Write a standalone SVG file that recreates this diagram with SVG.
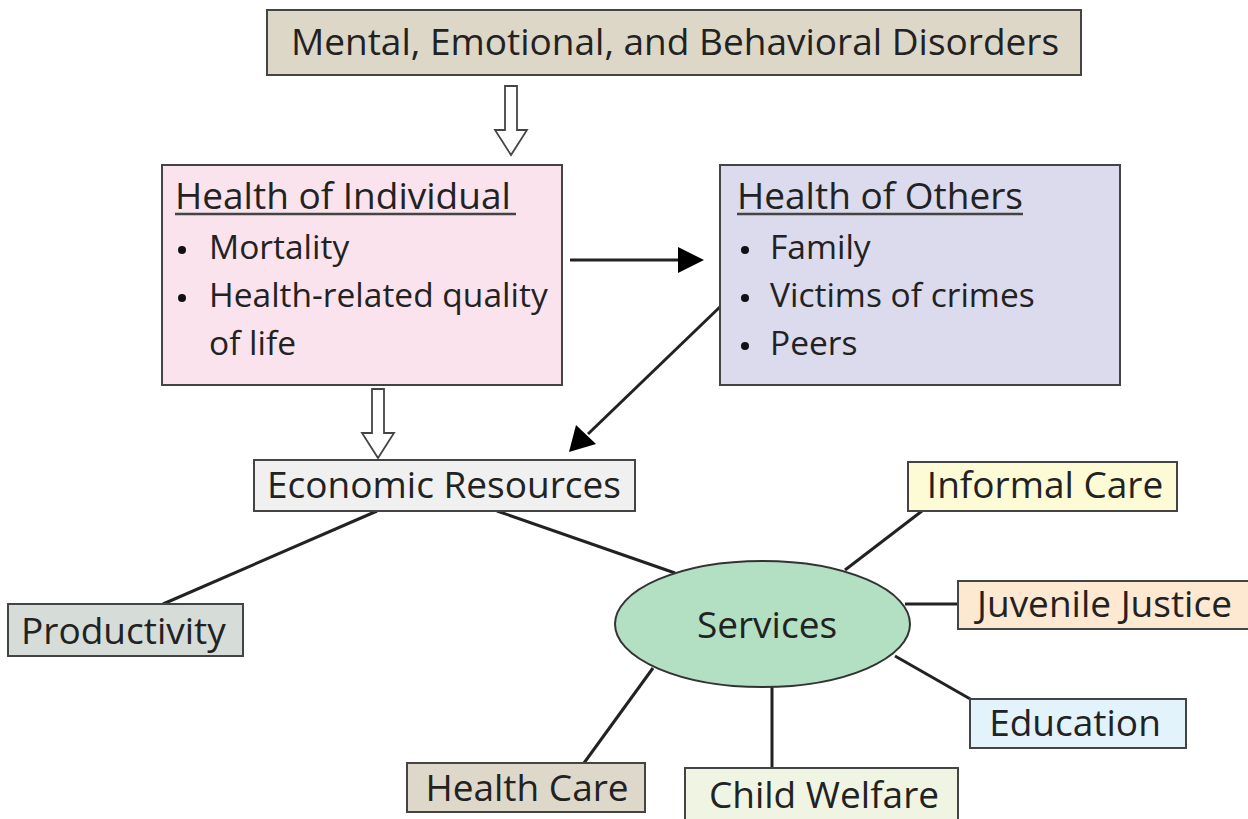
<svg xmlns="http://www.w3.org/2000/svg" width="1248" height="819" viewBox="0 0 1248 819">
<defs>
<style>
.box{stroke:#444;stroke-width:2}
.t{font-family:"Open Sans","Liberation Sans",sans-serif;fill:#222;font-size:37px}
.b{font-size:33.5px}
.c{text-anchor:middle}
.ln{stroke:#222;stroke-width:3;fill:none}
.hollow{fill:#fff;stroke:#444;stroke-width:1.8}
.dot{fill:#111}
</style>
</defs>
<rect width="1248" height="819" fill="#fff"/>

<g id="connectors">
<path class="hollow" d="M505,86 H517 V130 H527 L511,155 L495,130 H505 Z"/>
<path class="hollow" d="M372,389 H384 V433 H394 L378,458 L362,433 H372 Z"/>
<line class="ln" x1="570" y1="260" x2="682" y2="260"/>
<path d="M678,247 L704,260 L678,273 Z" fill="#000"/>
<line class="ln" x1="723" y1="304" x2="588" y2="434"/>
<path d="M569,452 L576,425 L596,444 Z" fill="#000"/>
<line class="ln" x1="377" y1="511" x2="163" y2="604"/>
<line class="ln" x1="497" y1="511" x2="675" y2="573"/>
<line class="ln" x1="845" y1="570" x2="922" y2="511"/>
<line class="ln" x1="905" y1="604" x2="958" y2="604"/>
<line class="ln" x1="895" y1="656" x2="972" y2="700"/>
<line class="ln" x1="772" y1="687" x2="772" y2="768"/>
<line class="ln" x1="653" y1="668" x2="584" y2="763"/>
</g>

<g id="n-disorders">
<rect class="box" x="267" y="10" width="814" height="65" fill="#ddd7c8"/>
<text class="t c" x="675" y="55">Mental, Emotional, and Behavioral Disorders</text>
</g>

<g id="n-individual">
<rect class="box" x="162" y="165" width="400" height="220" fill="#fbe3ee"/>
<text class="t" x="175" y="209">Health of Individual</text>
<line x1="175" y1="214" x2="516" y2="214" stroke="#444" stroke-width="2.5"/>
<circle class="dot" cx="182" cy="250" r="4"/>
<text class="t b" x="209" y="259">Mortality</text>
<circle class="dot" cx="182" cy="298" r="4"/>
<text class="t b" x="209" y="307">Health-related quality</text>
<text class="t b" x="209" y="355">of life</text>
</g>

<g id="n-others">
<rect class="box" x="720" y="165" width="400" height="220" fill="#dcdaed"/>
<text class="t" x="737" y="209">Health of Others</text>
<line x1="737" y1="214" x2="1023" y2="214" stroke="#444" stroke-width="2.5"/>
<circle class="dot" cx="745" cy="250" r="4"/>
<text class="t b" x="770" y="259">Family</text>
<circle class="dot" cx="745" cy="298" r="4"/>
<text class="t b" x="770" y="307">Victims of crimes</text>
<circle class="dot" cx="745" cy="346" r="4"/>
<text class="t b" x="770" y="355">Peers</text>
</g>

<g id="n-economic">
<rect class="box" x="254" y="460" width="381" height="51" fill="#f0f0f0"/>
<text class="t c" x="444" y="498">Economic Resources</text>
</g>

<g id="n-productivity">
<rect class="box" x="8" y="604" width="235" height="52" fill="#d6dcd8"/>
<text class="t" x="21" y="644">Productivity</text>
</g>

<g id="n-services">
<ellipse cx="762.5" cy="624" rx="147.5" ry="63" fill="#b3dfc2" stroke="#333" stroke-width="2"/>
<text class="t c" x="767" y="638">Services</text>
</g>

<g id="n-informal">
<rect class="box" x="908" y="462" width="269" height="49" fill="#fdfad6"/>
<text class="t c" x="1045" y="498">Informal Care</text>
</g>

<g id="n-juvenile">
<rect class="box" x="958" y="581" width="300" height="48" fill="#fde8d2"/>
<text class="t" x="977" y="617">Juvenile Justice</text>
</g>

<g id="n-education">
<rect class="box" x="970" y="699" width="216" height="49" fill="#e2f3fb"/>
<text class="t c" x="1075" y="736">Education</text>
</g>

<g id="n-childwelfare">
<rect class="box" x="685" y="768" width="273" height="52" fill="#eff5e2"/>
<text class="t c" x="824" y="808">Child Welfare</text>
</g>

<g id="n-healthcare">
<rect class="box" x="407" y="763" width="238" height="49" fill="#ded8cb"/>
<text class="t c" x="527" y="801">Health Care</text>
</g>
</svg>
